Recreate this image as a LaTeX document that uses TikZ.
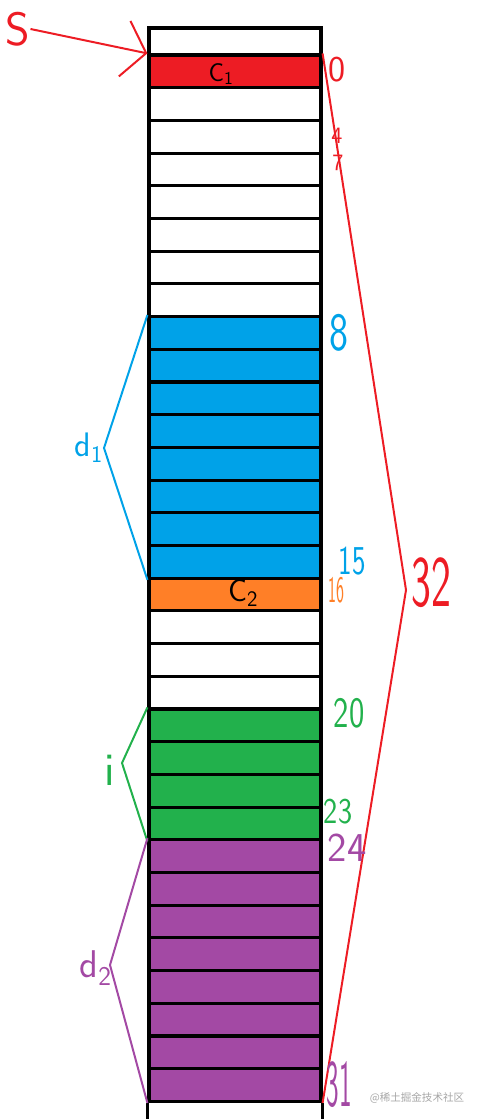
\documentclass[tikz,border=0pt]{standalone}
\usepackage{fontspec}
\usepackage{tikz}
\usetikzlibrary{arrows.meta}
\newfontfamily\cjk{Noto Sans CJK SC}
\definecolor{cred}{HTML}{ED1C24}
\definecolor{cblue}{HTML}{00A2E8}
\definecolor{corange}{HTML}{FF7F27}
\definecolor{cgreen}{HTML}{22B14C}
\definecolor{cpurple}{HTML}{A349A4}

\begin{document}
\begin{tikzpicture}[x=0.3mm,y=-0.3mm,
  cell/.style={draw,line width=2.7pt,minimum width=51.6mm,minimum height=9.81mm,inner sep=0},
  hand/.style={font=\sffamily\fontsize{#1}{#1}\selectfont,inner sep=0},
  wire/.style={line width=1.7pt}]
\useasboundingbox (0,0) rectangle (478,1119);
% the column of cells
\node[cell,minimum height=8.1mm] (ctop) at (235,41.5) {};
\foreach \a/\b/\col in {0/0/cred,1/7/white,8/15/cblue,16/16/corange,17/19/white,20/23/cgreen,24/31/cpurple}
  \foreach \i in {\a,...,\b}
    \node[cell,fill=\col] (c\i) at (235,{71.35+32.7*\i}) {};
\draw[line width=2.7pt] (c31.south west) -- ++(0,30) (c31.south east) -- ++(0,30);
\node[hand=22pt] (cone) at (221,74) {C\textsubscript{1}};
\node[hand=27pt] (ctwo) at (243,593) {C\textsubscript{2}};
% S pointer
\node[hand=40pt,cred] (S) at (18,29) {S};
\draw[wire,cred,-{Straight Barb[length=6.6mm,width=17mm]}] (S.east) -- (c0.north west);
% braces
\coordinate (rv) at (406,590);
\coordinate (d1v) at (104,448);
\coordinate (iv) at (122,763);
\coordinate (d2v) at (110,965);
\draw[wire,cred] (c0.north east) -- (rv) -- (c31.south east);
\draw[wire,cblue] (c8.north west) -- (d1v) -- (c15.south west);
\draw[wire,cgreen] (c20.north west) -- (iv) -- (c23.south west);
\draw[wire,cpurple] (c24.north west) -- (d2v) -- (c31.south west);
\node[hand=29pt,cblue,anchor=east] (d1) at (103,448) {d\textsubscript{1}};
\node[hand=40pt,cgreen] (ilab) at (110,770) {i};
\node[hand=33pt,cpurple,anchor=east] (d2) at (112,968) {d\textsubscript{2}};
% indices
\node[hand=31pt,cred] (n0) at (337,70) {0};
\node[hand=20pt,cred] (n4) at (337,136) {4};
\node[hand=20pt,cred] (n7) at (338,163) {7};
\node[hand=46pt,cblue,xscale=0.75] (n8) at (339,333) {8};
\node[hand=35pt,cblue,xscale=0.7] (n15) at (352,561) {15};
\node[hand=32pt,corange,xscale=0.45] (n16) at (336,590) {16};
\node[hand=62pt,cred,xscale=0.58] (n32) at (431,583) {32};
\node[hand=37pt,cgreen,xscale=0.75] (n20) at (349,713) {20};
\node[hand=31pt,cgreen,xscale=0.83] (n23) at (338,812) {23};
\node[hand=35pt,cpurple] (n24) at (347,848) {24};
\node[hand=57pt,cpurple,xscale=0.4] (n31) at (339,1085) {31};
\node[font=\cjk\fontsize{9pt}{9pt}\selectfont,text=black!35,inner sep=0] (wm) at (417,1098) {@稀土掘金技术社区};
\end{tikzpicture}
\end{document}
